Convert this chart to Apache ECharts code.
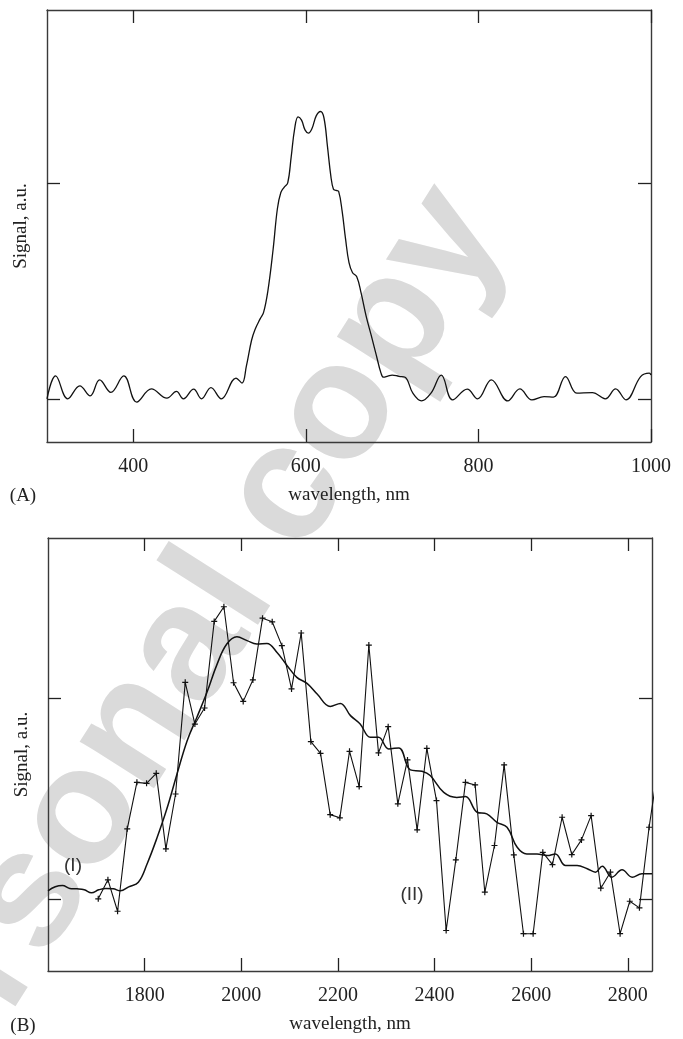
<!DOCTYPE html>
<html>
<head>
<meta charset="utf-8">
<script src="https://cdn.jsdelivr.net/npm/echarts@6/dist/echarts.min.js"></script>
<style>
  html, body { margin: 0; padding: 0; background: #fff; }
  #chart { width: 683px; height: 1039px; }
</style>
</head>
<body>
<div id="chart"></div>
<script>
// panel (A): visible spectrum
const aWave = [300, 310, 324, 338, 350, 361, 374, 389, 404, 421, 439, 450, 458, 470, 479, 490, 502, 519, 526,
  531, 537, 541, 547, 551, 556, 562, 567, 571, 575, 579, 583, 587, 591, 595, 599, 603, 607, 612, 617, 621,
  625, 629, 632, 635, 638, 642, 646, 650, 654, 659, 664, 670, 676, 682, 687, 690, 695, 700, 708, 715, 724,
  734, 745, 757, 770, 787, 799, 815, 834, 848, 862, 876, 887, 901, 914, 932, 947, 959, 971, 988, 998, 1000]
const aSignal = [0.0, 0.106, 0.0, 0.06, 0.014, 0.088, 0.03, 0.106, -0.015, 0.046, 0.003, 0.034, 0.0, 0.045, 0.0, 0.052, 0.0, 0.096, 0.073,
  0.15, 0.27, 0.32, 0.37, 0.40, 0.50, 0.69, 0.88, 0.955, 0.98, 1.0, 1.12, 1.25, 1.305, 1.29, 1.245, 1.23, 1.25, 1.31, 1.33, 1.30,
  1.17, 1.03, 0.97, 0.965, 0.96, 0.87, 0.74, 0.63, 0.585, 0.565, 0.49, 0.38, 0.29, 0.196, 0.12, 0.1, 0.105, 0.11, 0.104, 0.1, 0.026,
  -0.01, 0.026, 0.11, -0.005, 0.045, 0.0, 0.088, -0.01, 0.046, -0.005, 0.01, 0.008, 0.103, 0.026, 0.029, 0.0, 0.046, -0.005, 0.103, 0.119, 0.11]

// panel (B): curve (I), smooth
const bWaveI = [1600, 1615, 1630, 1645, 1660, 1675, 1690, 1705, 1720, 1735, 1750, 1767, 1787, 1805, 1826, 1846, 1867, 1888,
  1908, 1929, 1950, 1970, 1991, 2012, 2032, 2053, 2074, 2095, 2115, 2136, 2157, 2184, 2205, 2226, 2246, 2267, 2284, 2305,
  2326, 2350, 2374, 2391, 2419, 2446, 2464, 2488, 2508, 2529, 2550, 2571, 2591, 2612, 2633, 2650, 2671, 2695, 2716, 2733,
  2747, 2767, 2788, 2809, 2829, 2850]
const bSignalI = [0.04, 0.06, 0.066, 0.052, 0.05, 0.045, 0.03, 0.045, 0.052, 0.05, 0.04, 0.06, 0.083, 0.174, 0.307, 0.449, 0.623, 0.789,
  0.905, 1.03, 1.171, 1.271, 1.307, 1.288, 1.271, 1.274, 1.229, 1.163, 1.105, 1.075, 1.022, 0.96, 0.975, 0.914, 0.872, 0.806, 0.806, 0.748,
  0.753, 0.643, 0.636, 0.615, 0.531, 0.506, 0.51, 0.432, 0.424, 0.382, 0.357, 0.257, 0.224, 0.224, 0.216, 0.224, 0.166, 0.166, 0.15, 0.133,
  0.163, 0.108, 0.145, 0.108, 0.125, 0.125]

// panel (B): curve (II), measured points
const bWaveII = [1704, 1724, 1744, 1764, 1784, 1804, 1824, 1844, 1864, 1884, 1904, 1924, 1944, 1964, 1984, 2004, 2024, 2044,
  2064, 2084, 2104, 2124, 2144, 2164, 2184, 2204, 2224, 2244, 2264, 2284, 2304, 2324, 2344, 2364, 2384, 2404, 2424, 2444,
  2464, 2484, 2504, 2524, 2544, 2564, 2584, 2604, 2624, 2644, 2664, 2684, 2704, 2724, 2744, 2764, 2784, 2804, 2824, 2844, 2864]
const bSignalII = [0, 0.095, -0.062, 0.349, 0.581, 0.576, 0.626, 0.249, 0.523, 1.08, 0.872, 0.952, 1.384, 1.457, 1.078, 0.985, 1.092, 1.40,
  1.382, 1.263, 1.047, 1.326, 0.784, 0.726, 0.42, 0.404, 0.736, 0.56, 1.266, 0.728, 0.859, 0.474, 0.693, 0.344, 0.751, 0.49, -0.158, 0.194,
  0.581, 0.568, 0.033, 0.266, 0.668, 0.219, -0.174, -0.174, 0.232, 0.171, 0.407, 0.221, 0.294, 0.415, 0.053, 0.133, -0.174, -0.012, -0.045, 0.357, 0.68]

const aTicks = [400, 600, 800, 1000]
const bTicks = [1800, 2000, 2200, 2400, 2600, 2800]
const yTicks = [0, 1]

const serif = 'Liberation Serif'
const ink = '#222'
const frame = { show: true, onZero: false, lineStyle: { color: '#3a3a3a', width: 1.4 } }

function xAxis(grid, pos, min, max, ticks, withLabels) {
  return {
    type: 'value', gridIndex: grid, position: pos, min: min, max: max,
    axisLine: frame,
    axisTick: { show: true, inside: true, length: 13, customValues: ticks, lineStyle: { color: '#222', width: 1.3 } },
    axisLabel: withLabels
      ? { show: true, customValues: ticks, margin: 15, fontFamily: serif, fontSize: 20, color: ink, formatter: v => String(v) }
      : { show: false },
    splitLine: { show: false },
    name: withLabels ? 'wavelength, nm' : '',
    nameLocation: 'middle',
    nameGap: 44,
    nameTextStyle: { fontFamily: serif, fontSize: 19, color: ink }
  }
}

function yAxis(grid, pos, min, max, withName) {
  return {
    type: 'value', gridIndex: grid, position: pos, min: min, max: max,
    axisLine: frame,
    axisTick: { show: true, inside: true, length: 13, customValues: yTicks, lineStyle: { color: '#222', width: 1.3 } },
    axisLabel: { show: false },
    splitLine: { show: false },
    name: withName ? 'Signal, a.u.' : '',
    nameLocation: 'middle',
    nameGap: 16,
    nameTextStyle: { fontFamily: serif, fontSize: 19, color: ink }
  }
}

const zip = (xs, ys) => xs.map((x, i) => [x, ys[i]])

const chart = echarts.init(document.getElementById('chart'), null, { renderer: 'canvas' })
chart.setOption({
  animation: false,
  backgroundColor: '#fff',
  grid: [
    { left: 47, top: 10, width: 604, height: 432 },
    { left: 48, top: 538, width: 604, height: 433 }
  ],
  xAxis: [
    xAxis(0, 'bottom', 300, 1000, aTicks, true),
    xAxis(0, 'top', 300, 1000, aTicks, false),
    xAxis(1, 'bottom', 1600, 2850, bTicks, true),
    xAxis(1, 'top', 1600, 2850, bTicks, false)
  ],
  yAxis: [
    yAxis(0, 'left', -0.2, 1.8, true),
    yAxis(0, 'right', -0.2, 1.8, false),
    yAxis(1, 'left', -0.36, 1.8, true),
    yAxis(1, 'right', -0.36, 1.8, false)
  ],
  graphic: [
    {
      // watermark behind the plots
      type: 'text', x: 166, y: 684, rotation: 1.005, z: -10, silent: true,
      style: { text: 'Personal copy', font: 'bold 166px "Liberation Sans"', fill: '#dadada', align: 'center', verticalAlign: 'middle' }
    },
    { type: 'text', x: 23, y: 496, style: { text: '(A)', font: '19px "Liberation Serif"', fill: ink, align: 'center', verticalAlign: 'middle' } },
    { type: 'text', x: 23, y: 1026, style: { text: '(B)', font: '19px "Liberation Serif"', fill: ink, align: 'center', verticalAlign: 'middle' } },
    { type: 'text', x: 73, y: 866, style: { text: '(I)', font: '19px "Liberation Sans"', fill: '#333', align: 'center', verticalAlign: 'middle' } },
    { type: 'text', x: 412, y: 895, style: { text: '(II)', font: '19px "Liberation Sans"', fill: '#333', align: 'center', verticalAlign: 'middle' } }
  ],
  series: [
    {
      type: 'line', xAxisIndex: 0, yAxisIndex: 0, data: zip(aWave, aSignal),
      smooth: 0.4, showSymbol: false, lineStyle: { color: '#111', width: 1.3 }
    },
    {
      type: 'line', xAxisIndex: 2, yAxisIndex: 2, data: zip(bWaveI, bSignalI),
      smooth: 0.4, showSymbol: false, lineStyle: { color: '#111', width: 1.5 }
    },
    {
      type: 'line', xAxisIndex: 2, yAxisIndex: 2, data: zip(bWaveII, bSignalII),
      smooth: false, clip: true,
      symbol: 'path://M4,0h2v4h4v2h-4v4h-2v-4h-4v-2h4z', symbolSize: 6, showAllSymbol: true,
      itemStyle: { color: '#111' },
      lineStyle: { color: '#111', width: 1.1 }
    }
  ]
})
</script>
</body>
</html>
